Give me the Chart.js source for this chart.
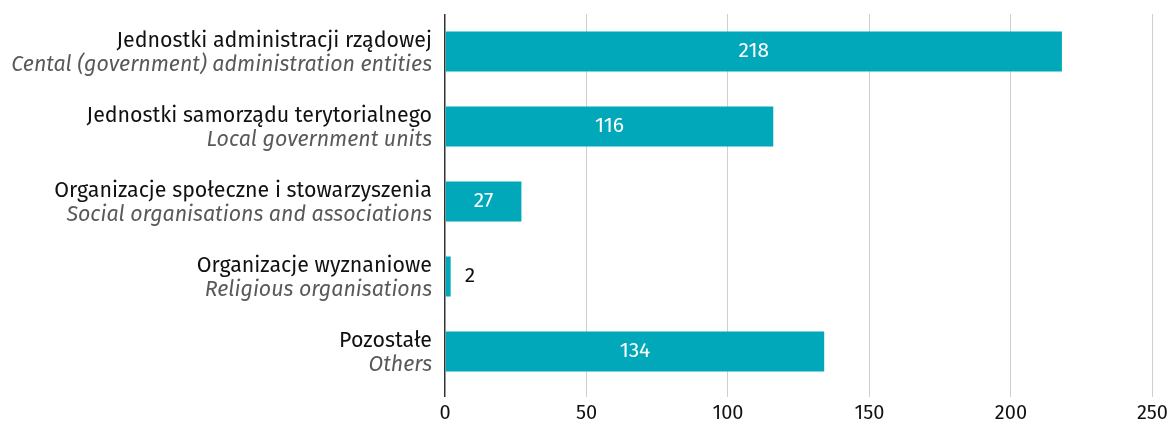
<!DOCTYPE html>
<html><head><meta charset="utf-8">
<script src="https://cdn.jsdelivr.net/npm/chart.js@4"></script>
<style>html,body{margin:0;padding:0;background:#fff}#w{width:1172px;height:425px}</style>
</head><body><div id="w"><canvas id="c" width="1172" height="425"></canvas></div>
<script>
const labelsPL = ["Jednostki administracji rządowej","Jednostki samorządu terytorialnego","Organizacje społeczne i stowarzyszenia","Organizacje wyznaniowe","Pozostałe"];
const labelsEN = ["Cental (government) administration entities","Local government units","Social organisations and associations","Religious organisations","Others"];
const values = [218,116,27,2,134];
const xTicks = [0,50,100,150,200,250];

const FONT = "'Fira Sans','Open Sans','Noto Sans',sans-serif";

const labelPlugin = {
  id:'labels',
  afterDatasetsDraw(chart){
    const ctx = chart.ctx, y = chart.scales.y;
    ctx.save();
    ctx.textAlign='right';
    labelsPL.forEach((t,i)=>{
      const py = y.getPixelForValue(i);
      ctx.font = "21.4px "+FONT; ctx.fillStyle='#111'; ctx.textBaseline='middle';
      ctx.fillText(t, chart.chartArea.left-13, py-10.5);
      ctx.font = "italic 21.4px "+FONT; ctx.fillStyle='#595959';
      ctx.fillText(labelsEN[i], chart.chartArea.left-13, py+13.5);
    });
    const meta = chart.getDatasetMeta(0);
    ctx.font = "21px "+FONT; ctx.textBaseline='middle';
    meta.data.forEach((bar,i)=>{
      const w = bar.x - bar.base;
      if (w > 40){ ctx.textAlign='center'; ctx.fillStyle='#fff'; ctx.fillText(String(values[i]), (bar.x+bar.base)/2, bar.y); }
      else { ctx.textAlign='left'; ctx.fillStyle='#111'; ctx.fillText(String(values[i]), bar.x+14, bar.y); }
    });
    ctx.restore();
  }
};

new Chart(document.getElementById('c'), {
  type:'bar',
  data:{ labels: labelsPL, datasets:[{ data: values, backgroundColor:'#00a8b9', borderWidth:0, barPercentage:0.66, categoryPercentage:0.81 }]},
  options:{
    indexAxis:'y', responsive:false, animation:false,
    layout:{ padding:{ top:14, right:19, left:0, bottom:0 } },
    plugins:{ legend:{display:false}, tooltip:{enabled:false} },
    scales:{
      x:{ min:0, max:250, afterBuildTicks(s){ s.ticks = xTicks.map(v=>({value:v})); },
          afterFit(s){ s.height = 36; },
          border:{display:false},
          grid:{ color:(c)=> c.tick && c.tick.value===0 ? '#333' : '#cfcfcf', lineWidth:(c)=> c.tick && c.tick.value===0 ? 1.5 : 1, tickLength:8, drawTicks:true },
          ticks:{ color:'#111', font:{family:FONT, size:20}, padding:4 } },
      y:{ afterFit(s){ s.width = 445; }, border:{display:false}, grid:{display:false}, ticks:{display:false} }
    }
  },
  plugins:[labelPlugin]
});
</script></body></html>
